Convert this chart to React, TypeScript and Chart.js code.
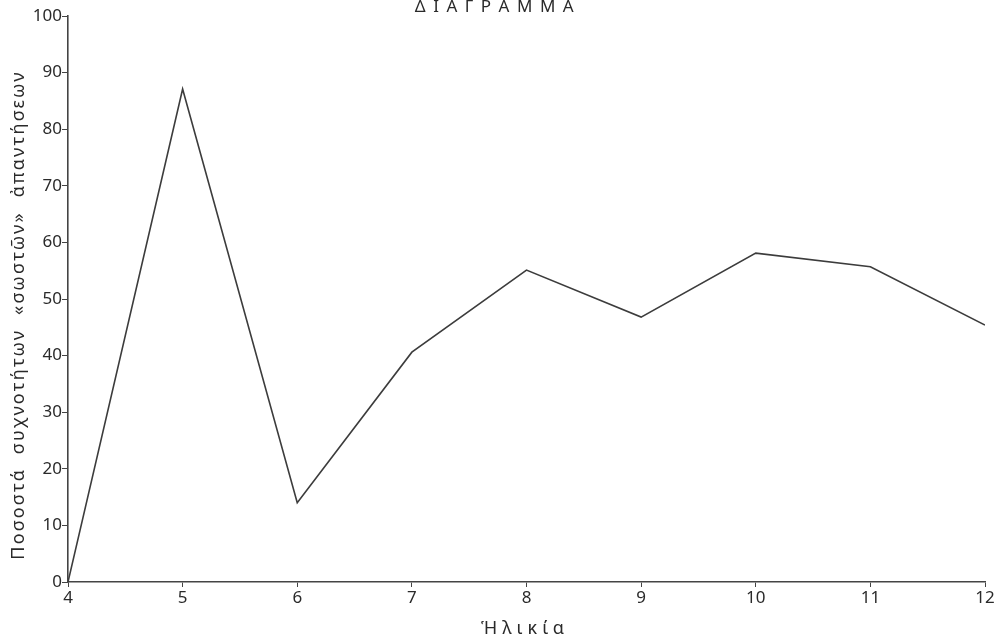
import React, { useEffect, useRef } from "react";
import { Chart, registerables } from "chart.js";

Chart.register(...registerables);

const ages = [4, 5, 6, 7, 8, 9, 10, 11, 12];
const percents = [0, 87.1, 14, 40.6, 55.1, 46.8, 58.1, 55.7, 45.4];
const chartTitle = "ΔΙΑΓΡΑΜΜΑ";
const xTitle = "Ἡλικία";
const yTitle = "Ποσοστά  συχνοτήτων  «σωστῶν»  ἀπαντήσεων";

const FONT = "'Noto Sans', sans-serif";
const INK = "#2a2a2a";

const labelsPlugin = {
  id: "customLabels",
  afterDraw(chart: any) {
    const ctx = chart.ctx as CanvasRenderingContext2D;
    ctx.save();
    ctx.fillStyle = INK;
    ctx.textAlign = "center";
    ctx.textBaseline = "middle";
    // main title
    ctx.font = `17px ${FONT}`;
    (ctx as any).letterSpacing = "7.5px";
    ctx.fillText(chartTitle, 498, 7);
    // x title
    ctx.font = `18px ${FONT}`;
    (ctx as any).letterSpacing = "5px";
    ctx.fillText(xTitle, 525, 629);
    // y title
    ctx.translate(19, 315);
    ctx.rotate(-Math.PI / 2);
    ctx.font = `18px ${FONT}`;
    (ctx as any).letterSpacing = "2.2px";
    ctx.fillText(yTitle, 0, 0);
    ctx.restore();
  },
};

export default function App() {
  const canvasRef = useRef<HTMLCanvasElement | null>(null);

  useEffect(() => {
    document.body.style.margin = "0";
    const canvas = canvasRef.current;
    if (!canvas) return;
    const chart = new Chart(canvas, {
      type: "line",
      data: {
        datasets: [
          {
            data: ages.map((a, i) => ({ x: a, y: percents[i] })),
            borderColor: "#3c3c3c",
            borderWidth: 1.6,
            pointRadius: 0,
            tension: 0,
            fill: false,
          },
        ],
      },
      options: {
        animation: false,
        responsive: false,
        maintainAspectRatio: false,
        layout: { padding: { top: 16, right: 11, left: 0, bottom: 0 } },
        plugins: {
          legend: { display: false },
          tooltip: { enabled: false },
          title: { display: false },
        },
        scales: {
          x: {
            type: "linear",
            min: 4,
            max: 12,
            afterFit(scale: any) {
              scale.height = 60;
            },
            ticks: {
              stepSize: 1,
              color: INK,
              font: { family: FONT, size: 17 },
              padding: 1,
            },
            grid: {
              display: true,
              drawOnChartArea: false,
              drawTicks: true,
              tickLength: 5,
              color: "#444",
            },
            border: { display: true, color: "#444", width: 1.6 },
          },
          y: {
            type: "linear",
            min: 0,
            max: 100,
            afterFit(scale: any) {
              scale.width = 68;
            },
            ticks: {
              stepSize: 10,
              color: INK,
              font: { family: FONT, size: 17 },
              padding: 0,
            },
            grid: {
              display: true,
              drawOnChartArea: false,
              drawTicks: true,
              tickLength: 6,
              color: "#444",
            },
            border: { display: true, color: "#444", width: 1.6 },
          },
        },
      },
      plugins: [labelsPlugin],
    });
    return () => chart.destroy();
  }, []);

  return (
    <div style={{ width: 996, height: 642, background: "#fff" }}>
      <canvas ref={canvasRef} width={996} height={642} style={{ display: "block" }} />
    </div>
  );
}
